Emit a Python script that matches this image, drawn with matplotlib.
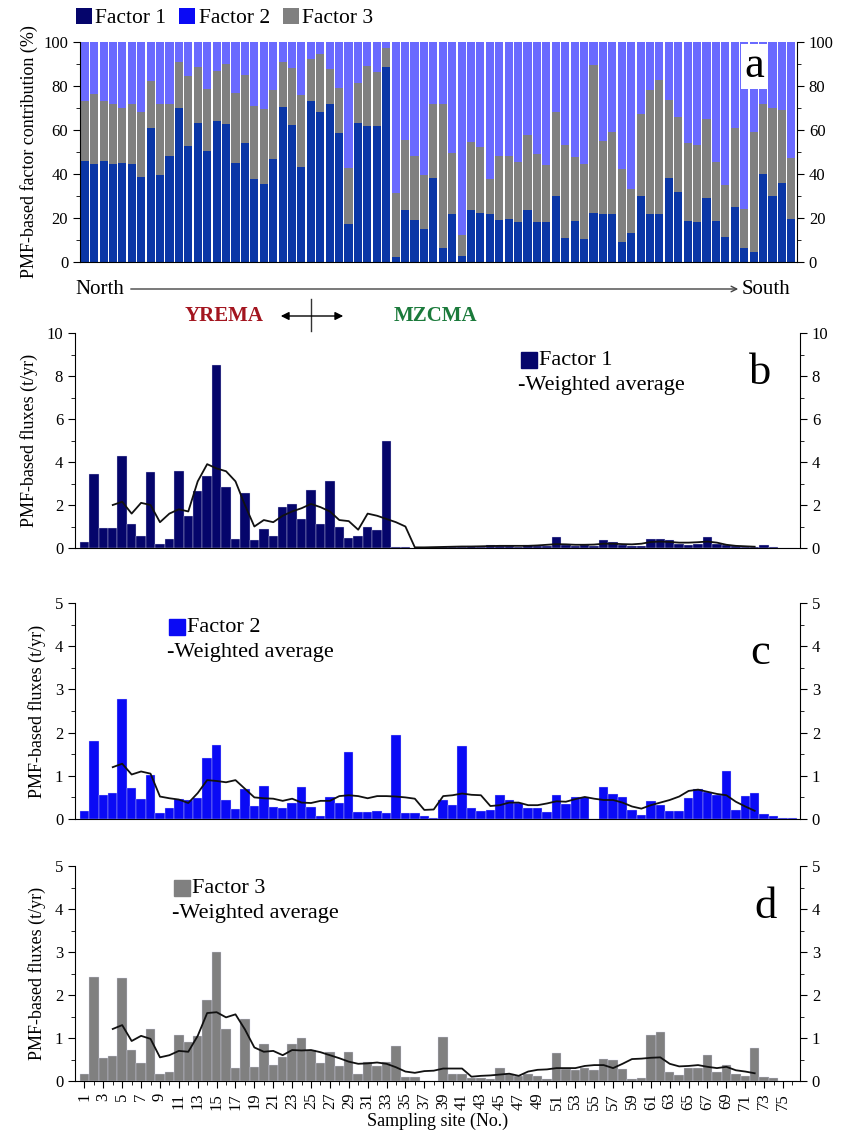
import matplotlib.pyplot as plt
import numpy as np
from matplotlib.ticker import MultipleLocator
from matplotlib.patches import Patch

plt.rcParams['font.family'] = 'Liberation Serif'

sites = np.arange(1, 77)

# panel a: factor contribution (%)
f1_pct = [46.1, 44.7, 46.0, 44.4, 45.0, 44.4, 38.8, 60.9, 39.4, 48.0,
          69.9, 52.6, 63.2, 50.3, 64.3, 62.7, 45.0, 54.2, 37.6, 35.4,
          46.6, 70.5, 62.3, 43.0, 73.0, 68.3, 72.0, 58.7, 17.4, 63.2,
          61.6, 61.6, 88.8, 2.2, 23.6, 19.3, 15.1, 38.2, 6.2, 21.7,
          2.6, 23.6, 22.5, 21.7, 18.9, 19.7, 18.2, 23.6, 18.2, 18.2,
          30.1, 10.9, 18.6, 10.4, 22.5, 22.0, 21.7, 9.2, 13.0, 29.8,
          22.0, 22.0, 38.4, 31.7, 18.5, 18.0, 29.0, 18.5, 11.2, 25.2,
          6.5, 4.5, 39.9, 30.1, 35.7, 19.7]
f3_pct = [26.9, 31.7, 27.0, 27.6, 25.2, 27.6, 29.5, 21.2, 32.3, 24.0,
          20.9, 31.9, 25.3, 28.4, 22.7, 27.4, 32.0, 30.7, 33.4, 34.0,
          31.4, 20.3, 25.7, 32.9, 19.2, 26.4, 15.9, 20.5, 25.3, 18.2,
          27.7, 24.7, 8.4, 29.0, 31.7, 28.7, 24.3, 33.5, 65.5, 27.8,
          9.8, 31.1, 29.7, 15.9, 29.2, 28.4, 27.1, 34.2, 30.7, 25.9,
          38.1, 42.2, 29.1, 34.2, 67.1, 33.1, 37.3, 33.0, 20.2, 37.7,
          56.0, 60.9, 35.2, 34.1, 35.4, 35.4, 35.8, 26.8, 23.6, 35.7,
          17.4, 54.5, 32.1, 40.1, 33.2, 27.5]
f2_pct = [27.0, 23.6, 27.0, 28.0, 29.8, 28.0, 31.7, 17.9, 28.3, 28.0,
          9.2, 15.5, 11.5, 21.3, 13.0, 9.9, 23.0, 15.1, 29.0, 30.6,
          22.0, 9.2, 12.0, 24.1, 7.8, 5.3, 12.1, 20.8, 57.3, 18.6,
          10.7, 13.7, 2.8, 68.8, 44.7, 52.0, 60.6, 28.3, 28.3, 50.5,
          87.6, 45.3, 47.8, 62.4, 51.9, 51.9, 54.7, 42.2, 51.1, 55.9,
          31.8, 46.9, 52.3, 55.4, 10.4, 44.9, 41.0, 57.8, 66.8, 32.5,
          22.0, 17.1, 26.4, 34.2, 46.1, 46.6, 35.2, 54.7, 65.2, 39.1,
          76.1, 41.0, 28.0, 29.8, 31.1, 52.8]

# panels b-d: fluxes (t/yr)
flux1 = [0.29, 3.46, 0.95, 0.91, 4.29, 1.12, 0.54, 3.52, 0.19, 0.42,
         3.57, 1.47, 2.67, 3.33, 8.53, 2.82, 0.42, 2.56, 0.36, 0.88,
         0.54, 1.91, 2.06, 1.35, 2.71, 1.12, 3.13, 1.0, 0.45, 0.55,
         1.0, 0.85, 5.0, 0.05, 0.03, 0.02, 0.02, 0.03, 0.04, 0.05,
         0.03, 0.08, 0.06, 0.12, 0.1, 0.08, 0.05, 0.12, 0.08, 0.1,
         0.5, 0.15, 0.1, 0.12, 0.1, 0.35, 0.3, 0.15, 0.1, 0.1,
         0.4, 0.4, 0.35, 0.2, 0.15, 0.2, 0.5, 0.2, 0.15, 0.1,
         0.05, 0.05, 0.12, 0.05, 0.02, 0.01]
flux2 = [0.19, 1.81, 0.56, 0.60, 2.78, 0.71, 0.46, 1.02, 0.15, 0.25,
         0.46, 0.44, 0.48, 1.42, 1.71, 0.44, 0.22, 0.70, 0.31, 0.77,
         0.27, 0.26, 0.38, 0.73, 0.27, 0.08, 0.52, 0.36, 1.54, 0.17,
         0.17, 0.18, 0.15, 1.95, 0.13, 0.15, 0.07, 0.03, 0.44, 0.32,
         1.69, 0.25, 0.19, 0.21, 0.56, 0.43, 0.38, 0.26, 0.26, 0.17,
         0.56, 0.35, 0.5, 0.52, 0.0, 0.73, 0.57, 0.52, 0.21, 0.09,
         0.42, 0.32, 0.19, 0.19, 0.48, 0.69, 0.63, 0.56, 1.1, 0.21,
         0.53, 0.6, 0.11, 0.07, 0.02, 0.02]
flux3 = [0.16, 2.43, 0.54, 0.57, 2.40, 0.71, 0.41, 1.21, 0.16, 0.2,
         1.07, 0.91, 1.05, 1.88, 3.01, 1.22, 0.31, 1.44, 0.33, 0.85,
         0.37, 0.55, 0.85, 1.01, 0.72, 0.43, 0.68, 0.36, 0.67, 0.16,
         0.45, 0.36, 0.45, 0.81, 0.09, 0.09, 0.01, 0.01, 1.02, 0.16,
         0.16, 0.08, 0.06, 0.04, 0.3, 0.16, 0.12, 0.17, 0.12, 0.04,
         0.65, 0.27, 0.25, 0.3, 0.26, 0.51, 0.49, 0.27, 0.05, 0.06,
         1.06, 1.15, 0.22, 0.14, 0.3, 0.3, 0.6, 0.2, 0.37, 0.17,
         0.12, 0.76, 0.09, 0.08, 0.0, 0.0]

# weighted averages, sites 4-72
avg_sites = np.arange(4, 73)
avg1 = [2.0, 2.15, 1.6, 2.1, 2.0, 1.2, 1.6, 1.8, 1.7, 3.1,
        3.9, 3.7, 3.57, 3.1, 2.0, 1.0, 1.3, 1.2, 1.5, 1.7,
        1.85, 2.05, 1.9, 1.7, 1.3, 1.25, 0.85, 1.6, 1.5, 1.35,
        1.2, 1.0, 0.03, 0.03, 0.04, 0.05, 0.06, 0.07, 0.07, 0.08,
        0.09, 0.1, 0.1, 0.1, 0.1, 0.12, 0.15, 0.18, 0.17, 0.15,
        0.15, 0.16, 0.2, 0.2, 0.18, 0.17, 0.2, 0.28, 0.3, 0.28,
        0.25, 0.25, 0.27, 0.3, 0.25, 0.15, 0.1, 0.08, 0.06]
avg2 = [1.2, 1.28, 1.03, 1.1, 1.05, 0.52, 0.48, 0.45, 0.37, 0.6,
        0.9, 0.88, 0.85, 0.9, 0.7, 0.5, 0.48, 0.47, 0.42, 0.47,
        0.38, 0.37, 0.42, 0.42, 0.53, 0.55, 0.53, 0.48, 0.53, 0.53,
        0.52, 0.5, 0.47, 0.21, 0.22, 0.53, 0.55, 0.59, 0.56, 0.55,
        0.3, 0.32, 0.38, 0.38, 0.32, 0.32, 0.36, 0.41, 0.40, 0.46,
        0.51, 0.47, 0.44, 0.44, 0.38, 0.29, 0.24, 0.32, 0.38, 0.44,
        0.52, 0.65, 0.68, 0.63, 0.58, 0.55, 0.40, 0.29, 0.19]
avg3 = [1.21, 1.3, 0.93, 1.05, 0.98, 0.55, 0.6, 0.7, 0.68, 1.05,
        1.58, 1.6, 1.48, 1.55, 1.2, 0.78, 0.68, 0.7, 0.6, 0.72,
        0.71, 0.72, 0.67, 0.6, 0.53, 0.45, 0.4, 0.41, 0.43, 0.4,
        0.32, 0.22, 0.19, 0.23, 0.24, 0.29, 0.29, 0.29, 0.1, 0.12,
        0.13, 0.15, 0.17, 0.12, 0.22, 0.26, 0.27, 0.3, 0.3, 0.3,
        0.35, 0.37, 0.37, 0.3, 0.4, 0.51, 0.52, 0.54, 0.55, 0.4,
        0.34, 0.35, 0.37, 0.33, 0.3, 0.33, 0.25, 0.22, 0.18]

W, H = 845, 1134
fig = plt.figure(figsize=(W / 100, H / 100), dpi=100)


def box(l, t, r, b):
    return [l / W, 1 - b / H, (r - l) / W, (b - t) / H]


def style_axes(ax, ymax, major, minor):
    ax.set_ylim(0, ymax)
    ax.yaxis.set_major_locator(MultipleLocator(major))
    ax.yaxis.set_minor_locator(MultipleLocator(minor))
    ax.tick_params(axis='y', which='both', direction='out', left=True, right=True,
                   labelleft=True, labelright=True, labelsize=12)
    ax.tick_params(axis='y', which='major', length=5)
    ax.tick_params(axis='y', which='minor', length=3)
    ax.spines['top'].set_visible(False)
    for s in ['left', 'right', 'bottom']:
        ax.spines[s].set_linewidth(0.8)


# ---- panel a
axa = fig.add_axes(box(80, 42, 797, 262))
c_a1, c_a2, c_a3 = '#0a36a6', '#6a6aff', '#808080'
axa.bar(sites, f1_pct, width=0.86, color=c_a1)
axa.bar(sites, f3_pct, width=0.86, bottom=f1_pct, color=c_a3)
axa.bar(sites, f2_pct, width=0.86, bottom=np.add(f1_pct, f3_pct), color=c_a2)
axa.set_xlim(0.5, 76.6)
style_axes(axa, 100, 20, 10)
axa.set_xticks([])
axa.set_ylabel('PMF-based factor contribution (%)', fontsize=13, labelpad=4)
axa.text(0.94, 0.89, 'a', transform=axa.transAxes, fontsize=32, ha='center', va='center',
         bbox=dict(facecolor='white', edgecolor='none', pad=2))

# ---- panels b-d
panels = [
    (box(75, 333, 800, 548), flux1, avg1, '#05056b', 10, 2, 1, 'Factor 1', 'b'),
    (box(75, 603, 800, 819), flux2, avg2, '#0a0af5', 5, 1, 0.5, 'Factor 2', 'c'),
    (box(75, 866, 800, 1081), flux3, avg3, '#808080', 5, 1, 0.5, 'Factor 3', 'd'),
]
leg_pos = [(0.626, 0.874, 0.611), (0.141, 0.888, 0.127), (0.148, 0.897, 0.134)]
letter_pos = [(0.945, 0.815), (0.945, 0.77), (0.953, 0.81)]
axes = []
for (pos, flux, avg, col, ymax, maj, mnr, lab, letter), (lx, ly, tx), (px, py) in zip(panels, leg_pos, letter_pos):
    ax = fig.add_axes(pos)
    ax.bar(sites, flux, width=1.0, color=col, edgecolor='#dcdcf0', linewidth=0.25)
    ax.plot(avg_sites, avg, color='#111111', lw=1.3)
    ax.set_xlim(0, 76.8)
    style_axes(ax, ymax, maj, mnr)
    ax.set_xticks([])
    ax.set_ylabel('PMF-based fluxes (t/yr)', fontsize=13, labelpad=6)
    ax.plot([lx], [ly], marker='s', markersize=11, color=col, transform=ax.transAxes, clip_on=False)
    ax.text(lx + 0.014, ly, lab, transform=ax.transAxes, fontsize=16, va='center')
    ax.text(tx, ly - 0.117, '-Weighted average', transform=ax.transAxes, fontsize=16, va='center')
    ax.text(px, py, letter, transform=ax.transAxes, fontsize=32, ha='center', va='center')
    axes.append(ax)

axd = axes[-1]
axd.set_xticks(np.arange(1, 77, 2))
axd.set_xticks(np.arange(2, 77, 2), minor=True)
axd.tick_params(axis='x', which='both', direction='out', rotation=90, labelsize=12)
axd.tick_params(axis='x', which='major', length=5)
axd.tick_params(axis='x', which='minor', length=3)
axd.set_xlabel('Sampling site (No.)', fontsize=13, labelpad=2)

# ---- annotations in pixel coordinates
ov = fig.add_axes([0, 0, 1, 1], facecolor='none')
ov.set_xlim(0, W)
ov.set_ylim(H, 0)
ov.axis('off')

ov.legend(handles=[Patch(facecolor='#05056b', label='Factor 1'),
                   Patch(facecolor='#0a0af5', label='Factor 2'),
                   Patch(facecolor='#808080', label='Factor 3')],
          loc='center left', bbox_to_anchor=(76 / W, 1 - 18 / H), ncol=3, frameon=False,
          fontsize=15.5, handlelength=0.75, handleheight=0.75, handletextpad=0.15,
          columnspacing=0.6, borderaxespad=0, borderpad=0)

ov.text(75, 290, 'North', fontsize=15, va='center', ha='left')
ov.text(742, 290, 'South', fontsize=15, va='center', ha='left')
ov.annotate('', xy=(741, 289), xytext=(128, 289),
            arrowprops=dict(arrowstyle='->', color='#444444', lw=1.0))
ov.text(224, 316, 'YREMA', fontsize=15, fontweight='bold', color='#a3151f', ha='center', va='center')
ov.text(435, 316, 'MZCMA', fontsize=15, fontweight='bold', color='#1b7a3b', ha='center', va='center')
ov.annotate('', xy=(346, 316), xytext=(278, 316),
            arrowprops=dict(arrowstyle='<|-|>', color='black', lw=1.0, mutation_scale=12))
ov.plot([311, 311], [299, 331], color='#333333', lw=1.0)

fig.savefig('out.png', dpi=100)
